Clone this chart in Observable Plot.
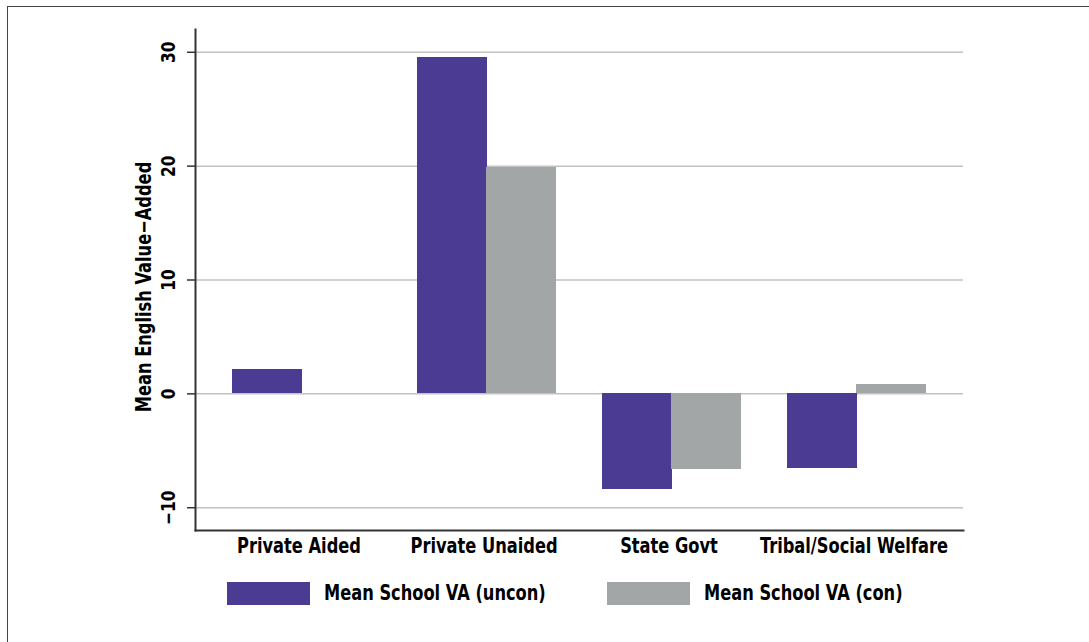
<!DOCTYPE html>
<html><head><meta charset="utf-8">
<script src="https://cdn.jsdelivr.net/npm/d3@7"></script>
<script src="https://cdn.jsdelivr.net/npm/@observablehq/plot@0.6"></script>
<style>
body{margin:0;background:#fff;}
#wrap{position:relative;width:1089px;height:642px;overflow:hidden;font-family:"Liberation Sans Narrow","Arial Narrow","DejaVu Sans Condensed",sans-serif;font-weight:bold;background:#fff;}
#border{position:absolute;left:7px;top:6px;width:1200px;height:800px;border:1px solid #444;}
#chart{position:absolute;left:0;top:0;}
.sw{position:absolute;top:582px;width:83px;height:23px;}
.lt{position:absolute;top:582px;height:23px;line-height:23px;font-size:21px;color:#000;white-space:nowrap;transform:scaleX(0.86);transform-origin:0 50%;}
</style></head>
<body><div id="wrap"><div id="border"></div><div id="chart"></div><div id="legend"></div></div>
<script>
const categories = ["Private Aided", "Private Unaided", "State Govt", "Tribal/Social Welfare"];
const unconValues = [2.13, 29.53, -8.41, -6.56];
const conValues = [null, 19.87, -6.65, 0.79];
const seriesNames = ["Mean School VA (uncon)", "Mean School VA (con)"];
const seriesColors = ["#4b3b92", "#a2a6a7"];
const yTicks = [-10, 0, 10, 20, 30];
const yTickLabels = ["\u221210", "0", "10", "20", "30"];
const yTitle = "Mean English Value\u2212Added";

const font = '"Liberation Sans Narrow","Arial Narrow","DejaVu Sans Condensed",sans-serif';
const condense = 0.86;
const unconRows = categories.map((c, i) => ({category: c, value: unconValues[i]}));
const conRows = categories.map((c, i) => ({category: c, value: conValues[i]})).filter(d => d.value != null);

const padInner = 0.249, padOuter = 0.2;
const plotLeft = 195, plotRight = 126, plotWidth = 1089;
const step = (plotWidth - plotLeft - plotRight) / (categories.length - padInner + 2 * padOuter);
const halfBand = step * (1 - padInner) / 2;

const plot = Plot.plot({
  width: plotWidth, height: 565,
  marginLeft: plotLeft, marginRight: plotRight, marginTop: 29, marginBottom: 35,
  style: {fontFamily: font, fontWeight: "bold", background: "transparent", overflow: "visible", color: "#000"},
  x: {domain: categories, paddingInner: padInner, paddingOuter: padOuter, axis: null},
  y: {domain: [-12, 32], axis: null},
  marks: [
    Plot.ruleY(yTicks, {stroke: "#c2c2c2", strokeWidth: 1.5}),
    Plot.barY(unconRows, {x: "category", y: "value", fill: seriesColors[0], insetRight: halfBand, shapeRendering: "crispEdges"}),
    Plot.barY(conRows, {x: "category", y: "value", fill: seriesColors[1], insetLeft: halfBand, shapeRendering: "crispEdges"}),
    Plot.axisY({ticks: yTicks, tickSize: 8, tickFormat: () => "", stroke: "#333", strokeWidth: 1.5, label: null}),
    Plot.frame({anchor: "left", stroke: "#333", strokeWidth: 2}),
    Plot.frame({anchor: "bottom", stroke: "#333", strokeWidth: 2}),
    Plot.text(yTicks, {y: d => d, text: (d, i) => yTickLabels[i], frameAnchor: "left", dx: -27, rotate: -90, fontSize: 20, textAnchor: "middle", lineAnchor: "middle", fill: "#000"}),
    Plot.text([yTitle], {text: d => d, frameAnchor: "left", dx: -51, dy: 7, rotate: -90, fontSize: 21, textAnchor: "middle", lineAnchor: "middle", fill: "#000"}),
    Plot.text(categories, {x: d => d, text: d => d, frameAnchor: "bottom", dy: 16, dx: -3, fontSize: 21, lineAnchor: "middle", fill: "#000"})
  ]
});
document.getElementById("chart").appendChild(plot);

// condense glyphs horizontally to imitate a narrow typeface
d3.select(plot).selectAll("text").each(function() {
  const len = this.getComputedTextLength();
  if (len > 0) {
    this.setAttribute("textLength", (len * condense).toFixed(2));
    this.setAttribute("lengthAdjust", "spacingAndGlyphs");
  }
});

const legend = document.getElementById("legend");
const swLeft = [227, 607], txtLeft = [324, 704];
seriesNames.forEach((name, i) => {
  const sw = document.createElement("div");
  sw.className = "sw"; sw.style.left = swLeft[i] + "px"; sw.style.background = seriesColors[i];
  legend.appendChild(sw);
  const t = document.createElement("div");
  t.className = "lt"; t.style.left = txtLeft[i] + "px"; t.textContent = name;
  legend.appendChild(t);
});
</script>
</body></html>
